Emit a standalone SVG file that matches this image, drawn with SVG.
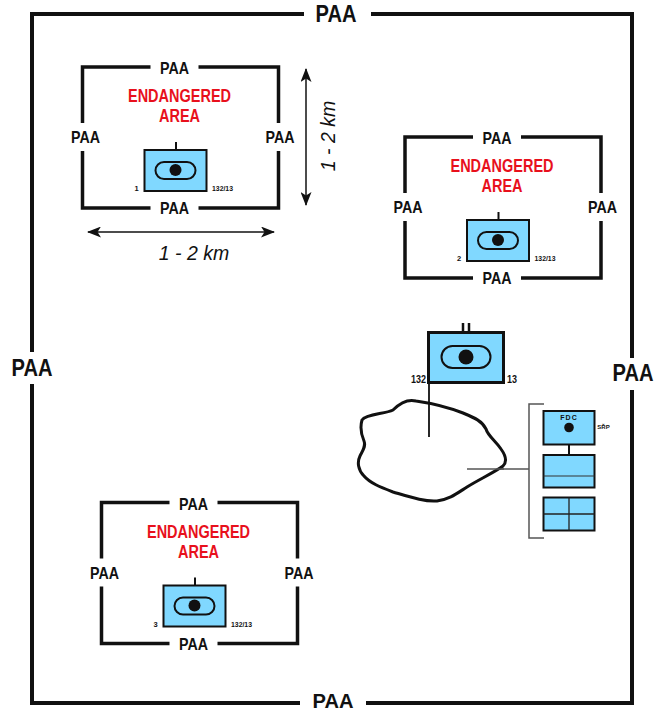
<svg xmlns="http://www.w3.org/2000/svg" width="662" height="712" viewBox="0 0 662 712">
<style>
text{font-family:"Liberation Sans",Arial,sans-serif;font-weight:bold;fill:#111;text-anchor:middle}
.frame{fill:none;stroke:#111;stroke-width:3.5;stroke-linecap:butt}
.big{font-size:23px}
.paa{font-size:16.5px}
.red{font-size:18px;fill:#e8101c}
.tiny{font-size:7.500px}
.km{font-size:19.500px;font-weight:normal;font-style:italic}
.unit{fill:#80d8ff;stroke:#111;stroke-width:2}
.thin{fill:none;stroke:#111;stroke-width:2}
.gray{fill:none;stroke:#555;stroke-width:1.5}
.arr{fill:none;stroke:#111;stroke-width:1.5;marker-start:url(#ah);marker-end:url(#ah)}
</style>
<defs>
<marker id="ah" viewBox="0 0 14 11" refX="13" refY="5.500" markerWidth="14" markerHeight="11" markerUnits="userSpaceOnUse" orient="auto-start-reverse"><path d="M0 0L14 5.500L0 11L3.500 5.500Z" fill="#111"/></marker>
<g id="area">
<path class="frame" d="M0 56V0H68M116 0H196V56M196 84V141H116M68 141H0V84"/>
<text class="paa" x="92" y="7" textLength="29" lengthAdjust="spacingAndGlyphs">PAA</text>
<text class="paa" x="3" y="76" textLength="29" lengthAdjust="spacingAndGlyphs">PAA</text>
<text class="paa" x="197.500" y="76" textLength="29" lengthAdjust="spacingAndGlyphs">PAA</text>
<text class="paa" x="92" y="147" textLength="29" lengthAdjust="spacingAndGlyphs">PAA</text>
<text class="red" x="97" y="35" textLength="103" lengthAdjust="spacingAndGlyphs">ENDANGERED</text>
<text class="red" x="97" y="55" textLength="41" lengthAdjust="spacingAndGlyphs">AREA</text>
<path class="thin" d="M93.500 75V83"/>
<rect class="unit" x="62" y="83" width="62" height="41"/>
<rect class="thin" x="73" y="95" width="40" height="17" rx="8.500"/>
<circle cx="93" cy="103" r="6" fill="#111"/>
<text class="tiny" x="140" y="124" textLength="21" lengthAdjust="spacingAndGlyphs">132/13</text>
</g>
</defs>
<rect width="662" height="712" fill="#fff"/>
<g id="connectors">
<path class="arr" d="M88 232H274"/>
<path class="arr" d="M306 69V205"/>
<path class="gray" d="M467 469H529"/>
<path class="gray" d="M544 404H529V538H544"/>
<path class="thin" d="M569 444V455"/>
</g>
<g id="outer-frame">
<path class="frame" style="stroke-width:4" d="M304 14H32V352M32 384V703H300M366 703H632V390M632 358V14H371"/>
<text class="big" x="336" y="22" textLength="41" lengthAdjust="spacingAndGlyphs">PAA</text>
<text class="big" x="32" y="376" textLength="41" lengthAdjust="spacingAndGlyphs">PAA</text>
<text class="big" x="633" y="381" textLength="41" lengthAdjust="spacingAndGlyphs">PAA</text>
<text class="big" style="font-size:21px" x="333" y="707.500" textLength="41" lengthAdjust="spacingAndGlyphs">PAA</text>
</g>
<g id="area-1" transform="translate(82.500 67)">
<use href="#area"/>
<text class="tiny" x="54" y="124">1</text>
</g>
<g id="area-2" transform="translate(405 137)">
<use href="#area"/>
<text class="tiny" x="54" y="124">2</text>
</g>
<g id="area-3" transform="translate(101.500 502.500)">
<use href="#area"/>
<text class="tiny" x="54" y="124">3</text>
</g>
<g id="range-labels">
<text class="km" x="194" y="260">1 - 2 km</text>
<text class="km" transform="translate(335 136) rotate(-90)">1 - 2 km</text>
</g>
<g id="blob">
<path d="M362 420C366 414 385 414 393 410C400 403 408 399 416 401C430 403 450 408 463 413C475 418 482 421 486 429C488 436 495 440 501 449C506 456 507 462 503 466C495 472 478 480 467 487C456 494 450 499 437 501C425 502 410 497 393 492C380 487 370 483 364 476C358 470 357 462 360 456C363 450 366 446 364 441C361 434 360 427 362 420Z" fill="#fff" stroke="#111" stroke-width="3"/>
<path class="gray" d="M467 469H504"/>
<path class="thin" style="stroke-width:1.800" d="M429 382V437"/>
</g>
<g id="main-unit">
<path d="M463 323V332M469 323V332" class="thin" style="stroke-width:2.500"/>
<rect class="unit" style="stroke-width:3" x="428.500" y="332.500" width="75" height="50"/>
<rect class="thin" x="441.500" y="346" width="49" height="22" rx="11"/>
<circle cx="466" cy="357" r="7.500" fill="#111"/>
<text x="418.500" y="383" style="font-size:10.500px" textLength="15" lengthAdjust="spacingAndGlyphs">132</text>
<text x="512" y="383" style="font-size:10.500px" textLength="10" lengthAdjust="spacingAndGlyphs">13</text>
</g>
<g id="fdc">
<rect class="unit" x="543.500" y="411" width="51" height="33.500"/>
<text x="569" y="420" style="font-size:7px;letter-spacing:1px">FDC</text>
<circle cx="569" cy="427.500" r="4.800" fill="#111"/>
<text x="603.500" y="429" style="font-size:6px">SŘP</text>
</g>
<g id="box-2">
<rect class="unit" x="543.500" y="455" width="51" height="32.500"/>
<path d="M543.500 476H594.500" stroke="#333" stroke-width="1.200"/>
</g>
<g id="box-3">
<rect class="unit" x="543.500" y="497.500" width="51" height="33"/>
<path d="M543.500 514H594.500M569 497.500V530.500" stroke="#222" stroke-width="1.300"/>
</g>
</svg>
